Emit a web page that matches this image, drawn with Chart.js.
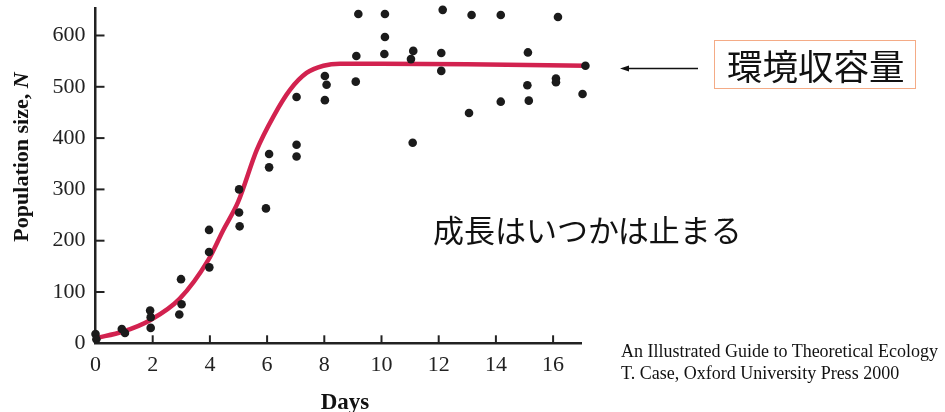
<!DOCTYPE html>
<html>
<head>
<meta charset="utf-8">
<title>Population growth</title>
<script src="https://cdn.jsdelivr.net/npm/chart.js@4"></script>
<style>
  body { margin: 0; background: #fff; }
  #wrap { position: relative; width: 945px; height: 412px; overflow: hidden; }
  #growth { display: block; }
  .note { position: absolute; white-space: nowrap; color: #111; line-height: 1; }
  .jp { font-family: "Noto Sans CJK JP", "Noto Sans", sans-serif; }
  .cite { font-family: "Liberation Serif", serif; font-size: 18px; line-height: 22px; color: #111; }
  #kbox { position: absolute; left: 714px; top: 40px; width: 202px; height: 49px;
          box-sizing: border-box; border: 1.5px solid #f4ab86; }
  svg { position: absolute; left: 0; top: 0; pointer-events: none; }
</style>
</head>
<body>
<div id="wrap">
  <canvas id="growth" width="945" height="412"></canvas>
  <div id="kbox"></div>
  <div class="note jp" style="left:727px; top:47px; font-size:35.5px;">環境収容量</div>
  <div class="note jp" style="left:433px; top:213px; font-size:31px;">成長はいつかは止まる</div>
  <div class="note cite" style="left:621px; top:340px;">An Illustrated Guide to Theoretical Ecology<br>T. Case, Oxford University Press 2000</div>
  <svg width="945" height="412">
    <line x1="698" y1="68.5" x2="627" y2="68.5" stroke="#111" stroke-width="1.5"/>
    <polygon points="620,68.5 629,65.5 629,71.5" fill="#111"/>
  </svg>
</div>
<script>
// tick labels
var xTicks = [0, 2, 4, 6, 8, 10, 12, 14, 16];
var yTicks = [0, 100, 200, 300, 400, 500, 600];

// observed counts
var obsDays = [0, 0.03, 0.92, 1.03, 1.91, 1.93, 1.93, 2.99, 3.01, 2.93,
  3.97, 3.97, 3.98, 5.02, 5.02, 5.04, 5.96, 6.07, 6.07,
  7.03, 7.03, 7.03, 8.02, 8.08, 8.02, 9.19, 9.12, 9.1,
  10.12, 10.12, 10.1, 11.11, 11.03, 11.09, 12.14, 12.09, 12.09,
  13.15, 13.06, 14.17, 14.17, 15.12, 15.1, 15.15, 16.17, 16.1, 16.1,
  17.13, 17.03];
var obsN = [18, 8, 28, 20, 64, 51, 30, 125, 76, 56,
  221, 178, 148, 300, 255, 228, 263, 369, 343,
  480, 387, 364, 521, 504, 474, 642, 560, 510,
  642, 597, 564, 570, 554, 391, 650, 566, 531,
  640, 449, 640, 471, 567, 503, 473, 636, 516, 509,
  541, 486];

// fitted logistic curve
var fitDays = [0, 0.97, 1.91, 2.93, 3.94, 4.47, 4.99, 5.64, 6.22, 6.8, 7.38, 7.97, 8.55, 10, 13, 17.17];
var fitN = [10, 23, 45, 86, 162, 221, 276, 377, 442, 494, 527, 541, 545, 545, 544, 541];

var xTitle = 'Days';
var yTitle = 'Population size, ';
var yTitleItalic = 'N';

var observed = obsDays.map(function (d, i) { return { x: d, y: obsN[i] }; });
var fitted = fitDays.map(function (d, i) { return { x: d, y: fitN[i] }; });

var serif = '"Liberation Serif", "Times New Roman", serif';

// inward tick marks + axis titles
var axisDeco = {
  id: 'axisDeco',
  afterDraw: function (chart) {
    var ctx = chart.ctx, a = chart.chartArea;
    var xs = chart.scales.x, ys = chart.scales.y;
    ctx.save();
    ctx.strokeStyle = '#222';
    ctx.lineWidth = 2;
    xTicks.forEach(function (v) {
      if (v === 0) return;
      var px = xs.getPixelForValue(v);
      ctx.beginPath(); ctx.moveTo(px, a.bottom); ctx.lineTo(px, a.bottom - 8); ctx.stroke();
    });
    yTicks.forEach(function (v) {
      if (v === 0) return;
      var py = ys.getPixelForValue(v);
      ctx.beginPath(); ctx.moveTo(a.left, py); ctx.lineTo(a.left + 9, py); ctx.stroke();
    });

    ctx.fillStyle = '#111';
    ctx.textBaseline = 'alphabetic';
    ctx.font = 'bold 23px ' + serif;
    ctx.textAlign = 'center';
    ctx.fillText(xTitle, 345, 409);

    ctx.translate(28, 157);
    ctx.rotate(-Math.PI / 2);
    ctx.textAlign = 'left';
    ctx.font = 'bold 22px ' + serif;
    var w1 = ctx.measureText(yTitle).width;
    ctx.font = 'italic bold 22px ' + serif;
    var w2 = ctx.measureText(yTitleItalic).width;
    var start = -(w1 + w2) / 2;
    ctx.font = 'bold 22px ' + serif;
    ctx.fillText(yTitle, start, 0);
    ctx.font = 'italic bold 22px ' + serif;
    ctx.fillText(yTitleItalic, start + w1, 0);
    ctx.restore();
  }
};

var ctx = document.getElementById('growth');
new Chart(ctx, {
  type: 'scatter',
  data: {
    datasets: [
      {
        label: 'observed',
        data: observed,
        backgroundColor: '#1b1b1b',
        borderWidth: 0,
        pointRadius: 4.3,
        clip: false,
        order: 0
      },
      {
        label: 'logistic',
        data: fitted,
        showLine: true,
        borderColor: '#d2224f',
        borderWidth: 4.5,
        pointRadius: 0,
        cubicInterpolationMode: 'monotone',
        clip: false,
        order: 1
      }
    ]
  },
  options: {
    responsive: false,
    animation: false,
    devicePixelRatio: 1,
    layout: { padding: { top: 8.3, right: 363.3, bottom: 0, left: 0 } },
    plugins: { legend: { display: false }, tooltip: { enabled: false } },
    scales: {
      x: {
        type: 'linear', min: 0, max: 17,
        afterBuildTicks: function (s) { s.ticks = xTicks.map(function (v) { return { value: v }; }); },
        afterFit: function (s) { s.height = 68.7; s.paddingLeft = 0; s.paddingRight = 0; },
        grid: { display: false, drawTicks: false },
        border: { display: true, color: '#222', width: 2.5 },
        ticks: { padding: 9, color: '#222', maxRotation: 0, font: { family: serif, size: 22 } }
      },
      y: {
        type: 'linear', min: 0, max: 653,
        afterBuildTicks: function (s) { s.ticks = yTicks.map(function (v) { return { value: v }; }); },
        afterFit: function (s) { s.width = 95.5; s.paddingTop = 0; s.paddingBottom = 0; },
        grid: { display: false, drawTicks: false },
        border: { display: true, color: '#222', width: 2.5 },
        ticks: { padding: 10, color: '#222', font: { family: serif, size: 22 } }
      }
    }
  },
  plugins: [axisDeco]
});
</script>
</body>
</html>
